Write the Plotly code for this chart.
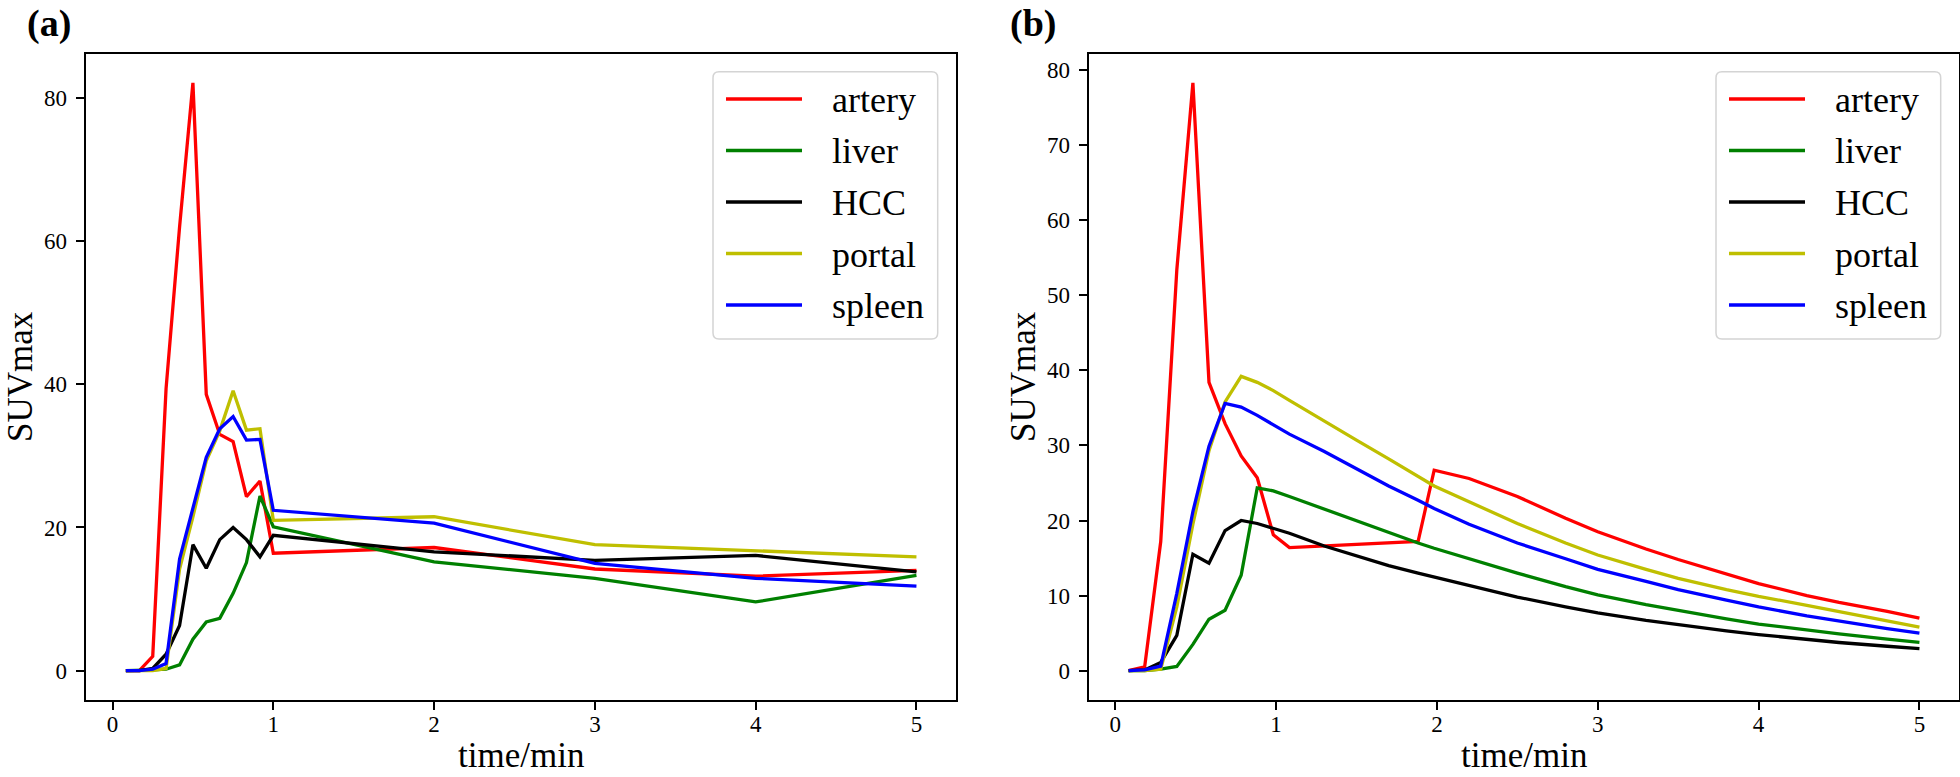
import plotly.graph_objects as go

W, H = 1960, 777

# ---------------- data ----------------
series_names = ["artery", "liver", "HCC", "portal", "spleen"]
series_colors = ["#ff0000", "#008000", "#000000", "#bfbf00", "#0000ff"]

# panel (a): measured time-activity curves
time_a = [0.083, 0.167, 0.25, 0.333, 0.417, 0.5, 0.583, 0.667, 0.75, 0.833, 0.917, 1.0, 2.0, 3.0, 4.0, 5.0]
artery_a = [0, 0, 2.0, 39.4, 62.0, 82.1, 38.6, 33.0, 32.0, 24.3, 26.5, 16.4, 17.2, 14.2, 13.2, 14.0]
liver_a = [0, 0, 0.1, 0.2, 0.8, 4.4, 6.8, 7.3, 10.8, 15.1, 24.4, 20.1, 15.2, 12.9, 9.6, 13.3]
hcc_a = [0, 0, 0.3, 2.3, 6.3, 17.6, 14.3, 18.3, 20.0, 18.3, 15.9, 18.9, 16.6, 15.4, 16.1, 13.8]
portal_a = [0, 0, 0, 0.3, 14.2, 21.5, 29.3, 33.5, 39.1, 33.6, 33.8, 21.0, 21.5, 17.6, 16.7, 15.9]
spleen_a = [0, 0, 0.2, 1.0, 15.6, 22.5, 29.8, 33.8, 35.5, 32.2, 32.3, 22.4, 20.6, 15.0, 12.9, 11.8]

# panel (b): fitted curves
time_b = [0.083, 0.183, 0.283, 0.383, 0.483, 0.583, 0.683, 0.783, 0.883, 0.983, 1.083,
          1.3, 1.5, 1.7, 1.883, 1.983, 2.2, 2.5, 2.8, 3.0, 3.3, 3.5, 3.8, 4.0, 4.3, 4.5, 4.8, 5.0]
artery_b = [0, 0.5, 17.2, 53.4, 78.3, 38.4, 32.9, 28.6, 25.7, 18.1, 16.4,
            16.6, 16.8, 17.0, 17.2, 26.7, 25.6, 23.2, 20.3, 18.5, 16.2, 14.8, 12.9, 11.6, 10.0, 9.1, 7.9, 7.0]
liver_b = [0, 0, 0.2, 0.57, 3.5, 6.85, 8.05, 12.7, 24.35, 23.95, 23.2,
           21.5, 19.9, 18.4, 17.0, 16.3, 14.9, 13.0, 11.2, 10.1, 8.8, 8.0, 6.9, 6.2, 5.4, 4.9, 4.2, 3.78]
hcc_b = [0, 0.1, 1.1, 4.7, 15.5, 14.3, 18.65, 20.0, 19.6, 19.0, 18.3,
         16.6, 15.3, 14.0, 13.0, 12.5, 11.4, 9.8, 8.5, 7.7, 6.7, 6.1, 5.3, 4.8, 4.15, 3.75, 3.25, 2.93]
portal_b = [0, 0, 0.2, 8.5, 19.5, 29.3, 35.8, 39.2, 38.4, 37.3, 36.0,
            33.2, 30.7, 28.2, 25.9, 24.6, 22.5, 19.6, 17.0, 15.4, 13.5, 12.3, 10.8, 9.9, 8.7, 7.9, 6.6, 5.8]
spleen_b = [0, 0.1, 0.6, 10.3, 21.2, 29.9, 35.6, 35.1, 34.0, 32.7, 31.5,
            29.2, 26.9, 24.6, 22.7, 21.6, 19.5, 17.0, 14.9, 13.5, 11.9, 10.8, 9.4, 8.5, 7.3, 6.6, 5.6, 5.0]

values_a = [artery_a, liver_a, hcc_a, portal_a, spleen_a]
values_b = [artery_b, liver_b, hcc_b, portal_b, spleen_b]

x_ticks = [0, 1, 2, 3, 4, 5]
y_ticks_a = [0, 20, 40, 60, 80]
y_ticks_b = [0, 10, 20, 30, 40, 50, 60, 70, 80]

FONT = "Liberation Serif"
LINE_W = 3.3


def px(p):
    return p / W


def py(p):
    return 1 - p / H


fig = go.Figure()
for name, color, vals in zip(series_names, series_colors, values_a):
    fig.add_trace(go.Scatter(x=time_a, y=vals, mode="lines", name=name,
                             line=dict(color=color, width=LINE_W), xaxis="x", yaxis="y",
                             showlegend=False))
for name, color, vals in zip(series_names, series_colors, values_b):
    fig.add_trace(go.Scatter(x=time_b, y=vals, mode="lines", name=name,
                             line=dict(color=color, width=LINE_W), xaxis="x2", yaxis="y2",
                             showlegend=False))


def axis(**kw):
    d = dict(showline=True, mirror=True, linecolor="black", linewidth=1.6,
             ticks="outside", ticklen=8.5, tickwidth=1.5, tickcolor="black",
             showgrid=False, zeroline=False,
             tickfont=dict(family=FONT, size=23, color="black"))
    d.update(kw)
    return d


y_dom = [(H - 700) / H, (H - 54.3) / H]
fig.update_layout(
    width=W, height=H,
    margin=dict(l=0, r=0, t=0, b=0),
    font=dict(family=FONT, size=23, color="black"),
    paper_bgcolor="white", plot_bgcolor="white",
    showlegend=False,
    xaxis=axis(domain=[px(86), px(956)], range=[-0.165, 5.246], tickvals=x_ticks,
               anchor="y", ticklabelstandoff=-6),
    yaxis=axis(domain=y_dom, range=[-4.1, 86.1], tickvals=y_ticks_a,
               anchor="x", ticklabelstandoff=4),
    xaxis2=axis(domain=[px(1089), px(1959)], range=[-0.163, 5.246], tickvals=x_ticks,
                anchor="y2", ticklabelstandoff=-6),
    yaxis2=axis(domain=y_dom, range=[-3.91, 82.1], tickvals=y_ticks_b,
                anchor="x2", ticklabelstandoff=4),
)

annotations = []
shapes = []

# panel labels, axis titles
for label, lx, ax_l, ax_r in [("(a)", 25, 86, 956), ("(b)", 1008, 1089, 1959)]:
    annotations.append(dict(text=label, x=px(lx), y=1, xref="paper", yref="paper",
                            xanchor="left", yanchor="top", showarrow=False,
                            font=dict(family=FONT, size=38, color="black", weight="bold")))
    annotations.append(dict(text="time/min", x=px((ax_l + ax_r) / 2), y=0,
                            xref="paper", yref="paper", xanchor="center", yanchor="bottom",
                            showarrow=False, font=dict(family=FONT, size=35, color="black")))
    annotations.append(dict(text="SUVmax", x=px(ax_l - 66), y=py(377), xref="paper",
                            yref="paper", xanchor="center", yanchor="middle", textangle=-90,
                            showarrow=False, font=dict(family=FONT, size=35, color="black")))

# legends (drawn manually to match the long line samples)
rows = [99, 150.5, 202, 253.5, 305]
for ax_r in [956, 1959]:
    off = ax_r - 1959
    bx0, bx1, by0, by1 = 1716 + off, 1940.7 + off, 71.7, 339
    r = 6
    rx, ry = r / W, r / H
    X0, X1, Y0, Y1 = px(bx0), px(bx1), py(by1), py(by0)
    path = (f"M{X0 + rx},{Y0} L{X1 - rx},{Y0} Q{X1},{Y0} {X1},{Y0 + ry} "
            f"L{X1},{Y1 - ry} Q{X1},{Y1} {X1 - rx},{Y1} L{X0 + rx},{Y1} "
            f"Q{X0},{Y1} {X0},{Y1 - ry} L{X0},{Y0 + ry} Q{X0},{Y0} {X0 + rx},{Y0} Z")
    shapes.append(dict(type="path", path=path, xref="paper", yref="paper",
                       line=dict(color="#d4d4d4", width=1.5), fillcolor="rgba(255,255,255,0.8)"))
    for name, color, ry_ in zip(series_names, series_colors, rows):
        shapes.append(dict(type="line", xref="paper", yref="paper",
                           x0=px(1729 + off), x1=px(1805 + off), y0=py(ry_), y1=py(ry_),
                           line=dict(color=color, width=LINE_W)))
        annotations.append(dict(text=name, x=px(1833 + off), y=py(ry_ + 1), xref="paper",
                                yref="paper", xanchor="left", yanchor="middle",
                                showarrow=False,
                                font=dict(family=FONT, size=36, color="black")))

fig.update_layout(annotations=annotations, shapes=shapes)

fig.write_html("out.html", config={"displayModeBar": False},
               post_script="document.body.style.margin='0';document.body.style.overflow='hidden';")
